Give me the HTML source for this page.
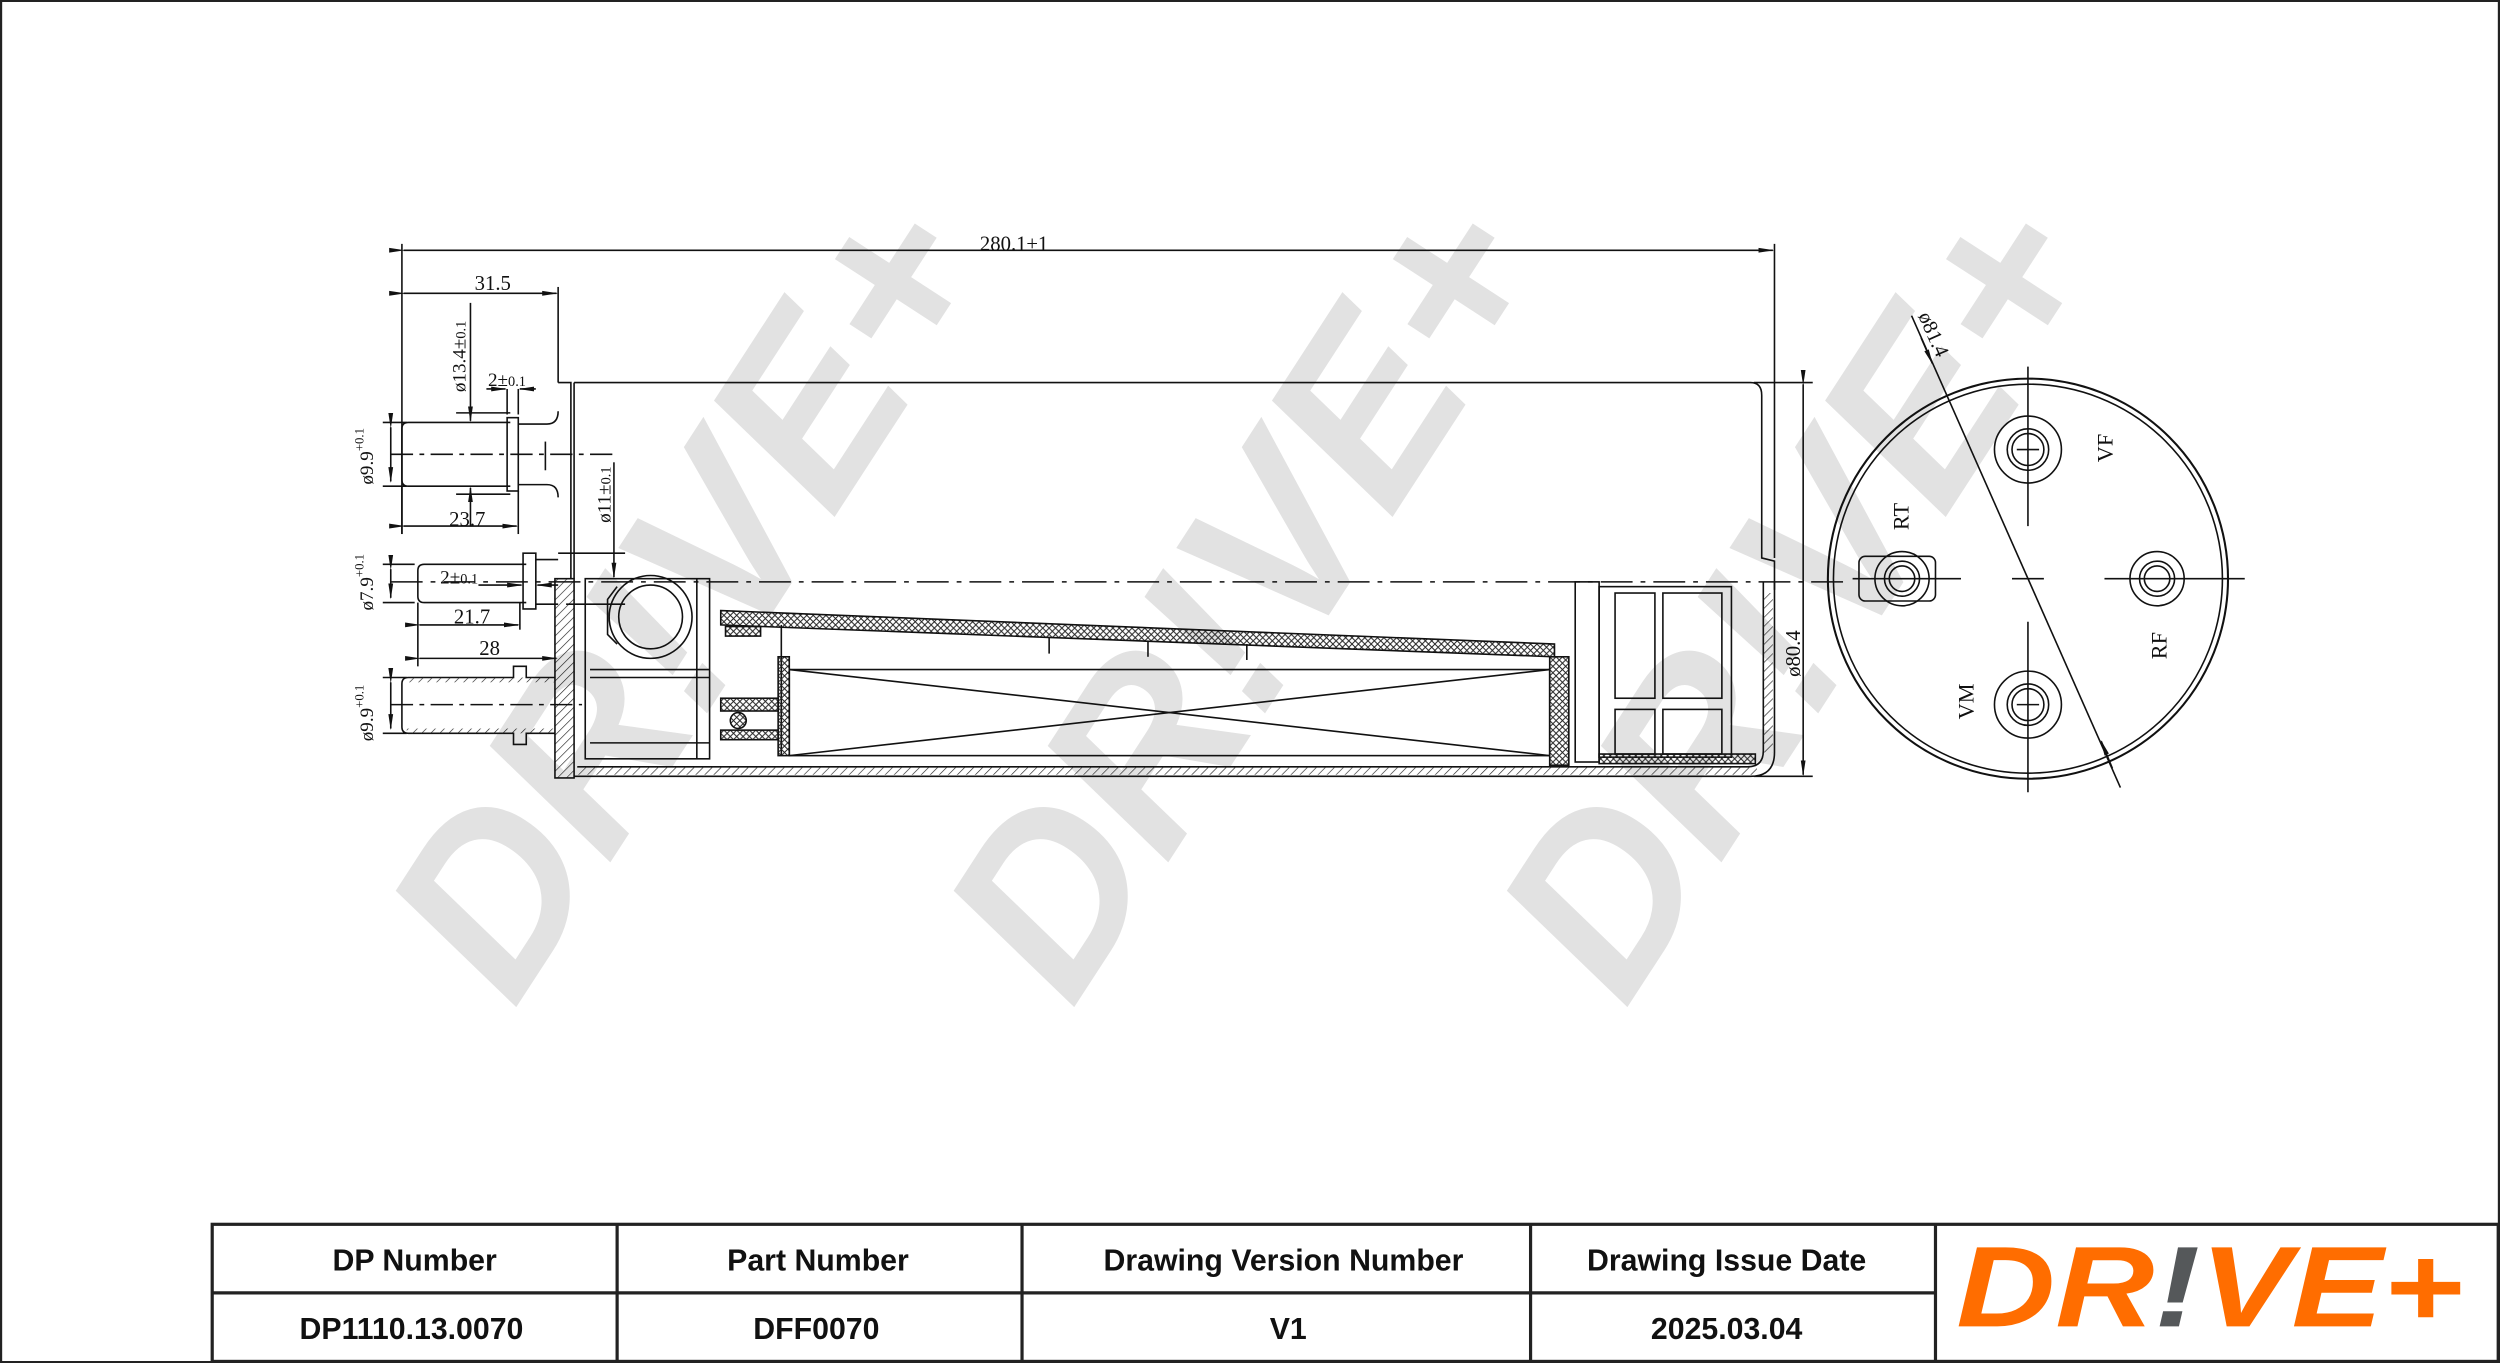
<!DOCTYPE html>
<html><head><meta charset="utf-8"><style>
html,body{margin:0;padding:0;background:#fff}
svg{display:block}
.s{font-family:"Liberation Serif",serif}
.t{font-family:"Liberation Sans",sans-serif;font-weight:bold;font-size:19px;text-anchor:middle}
.w{font-family:"Liberation Sans",sans-serif;font-weight:bold;font-style:italic}
</style></head><body>
<svg width="2500" height="1363" viewBox="0 0 1568 855" xmlns="http://www.w3.org/2000/svg">
<defs>
<pattern id="h" width="4" height="4" patternUnits="userSpaceOnUse" patternTransform="rotate(45)"><line x1="0" y1="0" x2="0" y2="4" stroke="#222" stroke-width="0.8"/></pattern>
<pattern id="x" width="4" height="4" patternUnits="userSpaceOnUse"><path d="M0 0L4 4M4 0L0 4" stroke="#222" stroke-width="0.6"/></pattern>
<marker id="a" markerWidth="10" markerHeight="6" refX="9" refY="3" orient="auto"><path d="M0 1.5L10 3L0 4.5z" fill="#111"/></marker>
</defs>
<rect x="0.5" y="0.5" width="1567" height="854" fill="#fff" stroke="#222" stroke-width="1.5"/>
<!-- watermarks -->
<g fill="#e2e2e2" class="w" font-size="150">
<text class="w" transform="translate(440,380) rotate(-57)" text-anchor="middle" dominant-baseline="middle">DR!VE+</text>
<text class="w" transform="translate(790,380) rotate(-57)" text-anchor="middle" dominant-baseline="middle">DR!VE+</text>
<text class="w" transform="translate(1137,380) rotate(-57)" text-anchor="middle" dominant-baseline="middle">DR!VE+</text>
</g>
<g stroke="#111" stroke-width="1" fill="none">
<line x1="252" y1="153" x2="252" y2="335"/>
<line x1="1113" y1="153" x2="1113" y2="350"/>
<line x1="253" y1="157" x2="1112" y2="157" marker-start="url(#a)" marker-end="url(#a)"/>
<line x1="350" y1="180" x2="350" y2="240"/>
<line x1="253" y1="184" x2="349" y2="184" marker-start="url(#a)" marker-end="url(#a)"/>
<path d="M360 240 H1098 Q1105 240 1105 248 V350 L1113 352 V370"/>
<line x1="1100" y1="240" x2="1137" y2="240"/>
<line x1="1100" y1="487" x2="1137" y2="487"/>
<line x1="1131" y1="241" x2="1131" y2="486" marker-start="url(#a)" marker-end="url(#a)"/>
<path d="M350 240 H358 V363"/>
<line x1="360" y1="240" x2="360" y2="363"/>
<rect x="348" y="363" width="12" height="125" fill="url(#h)"/>
<path d="M320 265 H256 Q252 265 252 269 V301 Q252 305 256 305 H320"/>
<rect x="318" y="262" width="7" height="46"/>
<path d="M325 266 H343 Q350 266 350 258 M325 304 H343 Q350 304 350 312"/>
<line x1="342" y1="277" x2="342" y2="295"/>
<line x1="245" y1="285" x2="385" y2="285" stroke-dasharray="14 4 3 4"/>
<line x1="295" y1="190" x2="295" y2="264" marker-end="url(#a)"/>
<line x1="295" y1="330" x2="295" y2="306" marker-end="url(#a)"/>
<line x1="286" y1="259" x2="320" y2="259"/><line x1="286" y1="310" x2="320" y2="310"/>
<line x1="305" y1="244" x2="317" y2="244" marker-end="url(#a)"/>
<line x1="336" y1="244" x2="326" y2="244" marker-end="url(#a)"/>
<line x1="318" y1="244" x2="318" y2="260"/><line x1="325" y1="244" x2="325" y2="260"/>
<line x1="253" y1="330" x2="324" y2="330" marker-start="url(#a)" marker-end="url(#a)"/>
<line x1="252" y1="305" x2="252" y2="335"/><line x1="325" y1="308" x2="325" y2="335"/>
<line x1="240" y1="265" x2="255" y2="265"/><line x1="240" y1="305" x2="255" y2="305"/>
<line x1="245" y1="268" x2="245" y2="302" marker-start="url(#a)" marker-end="url(#a)"/>
<path d="M330 354 H266 Q262 354 262 358 V374 Q262 378 266 378 H330"/>
<rect x="328" y="347" width="8" height="35"/>
<path d="M336 351 H350 M336 379 H350"/>
<line x1="245" y1="365" x2="1160" y2="365" stroke-dasharray="20 5 3 5"/>
<line x1="385" y1="290" x2="385" y2="362" marker-end="url(#a)"/>
<line x1="350" y1="347" x2="392" y2="347"/><line x1="355" y1="379" x2="392" y2="379"/>
<line x1="262" y1="378" x2="262" y2="418"/><line x1="326" y1="378" x2="326" y2="395"/>
<line x1="263" y1="392" x2="325" y2="392" marker-start="url(#a)" marker-end="url(#a)"/>
<line x1="263" y1="413" x2="349" y2="413" marker-start="url(#a)" marker-end="url(#a)"/>
<line x1="300" y1="367" x2="327" y2="367" marker-end="url(#a)"/>
<line x1="350" y1="367" x2="337" y2="367" marker-end="url(#a)"/>
<line x1="240" y1="354" x2="260" y2="354"/><line x1="240" y1="378" x2="260" y2="378"/>
<line x1="245" y1="357" x2="245" y2="375" marker-start="url(#a)" marker-end="url(#a)"/>
<path d="M348 425 H330 V418 H322 V425 H256 Q252 425 252 429 V456 Q252 460 256 460 H322 V467 H330 V460 H348"/>
<rect x="255" y="425" width="93" height="3" fill="url(#h)" stroke="none"/>
<rect x="255" y="457" width="93" height="3" fill="url(#h)" stroke="none"/>
<line x1="245" y1="442" x2="365" y2="442" stroke-dasharray="14 4 3 4"/>
<line x1="240" y1="425" x2="255" y2="425"/><line x1="240" y1="460" x2="255" y2="460"/>
<line x1="245" y1="428" x2="245" y2="457" marker-start="url(#a)" marker-end="url(#a)"/>
<path d="M360 487 H1098 Q1113 487 1113 472 V365"/>
<path d="M362 481 H1096 Q1106 481 1106 471 V365"/>
<rect x="362" y="481" width="740" height="5" fill="url(#h)" stroke="none"/>
<rect x="1106" y="372" width="6" height="100" fill="url(#h)" stroke="none"/>
<rect x="367" y="363" width="78" height="113"/>
<line x1="370" y1="420" x2="445" y2="420"/><line x1="370" y1="425" x2="445" y2="425"/>
<line x1="370" y1="466" x2="445" y2="466"/><line x1="437" y1="363" x2="437" y2="476"/>
<circle cx="408" cy="387" r="26"/><circle cx="408" cy="387" r="20"/>
<path d="M387 368 L381 376 V398 L387 404"/>
<path d="M452 383 L975 404 V412 L452 392 Z" fill="url(#x)"/>
<line x1="658" y1="400" x2="658" y2="410"/><line x1="720" y1="402" x2="720" y2="412"/><line x1="782" y1="404" x2="782" y2="414"/>
<rect x="455" y="393" width="22" height="6" fill="url(#x)"/>
<line x1="490" y1="392" x2="490" y2="474"/>
<rect x="488" y="412" width="7" height="62" fill="url(#x)"/>
<rect x="495" y="420" width="477" height="54"/>
<path d="M495 420 L972 474 M495 474 L972 420"/>
<rect x="972" y="412" width="12" height="68" fill="url(#x)"/>
<rect x="452" y="438" width="36" height="8" fill="url(#x)"/>
<rect x="452" y="458" width="36" height="6" fill="url(#x)"/>
<circle cx="463" cy="452" r="5" fill="url(#x)"/>
<rect x="988" y="365" width="15" height="113"/>
<rect x="1003" y="368" width="83" height="107"/>
<rect x="1013" y="372" width="25" height="66"/><rect x="1043" y="372" width="37" height="66"/>
<rect x="1013" y="445" width="25" height="28"/><rect x="1043" y="445" width="37" height="28"/>
<rect x="1003" y="473" width="98" height="6" fill="url(#x)"/>
<circle cx="1272" cy="363" r="125.5" stroke-width="1.3"/>
<circle cx="1272" cy="363" r="122"/>
<line x1="1272" y1="230" x2="1272" y2="330"/><line x1="1272" y1="390" x2="1272" y2="497"/>
<line x1="1162" y1="363" x2="1230" y2="363"/><line x1="1262" y1="363" x2="1282" y2="363"/><line x1="1320" y1="363" x2="1408" y2="363"/>
<line x1="1199" y1="198" x2="1330" y2="494"/>
<line x1="1205" y1="212" x2="1212" y2="228" marker-end="url(#a)"/>
<line x1="1325" y1="482" x2="1318" y2="465" marker-end="url(#a)"/>
<g><circle cx="1272" cy="282" r="21"/><circle cx="1272" cy="282" r="13"/><circle cx="1272" cy="282" r="10"/><path d="M1265 282H1279"/></g>
<g><circle cx="1272" cy="442" r="21"/><circle cx="1272" cy="442" r="13"/><circle cx="1272" cy="442" r="10"/><path d="M1265 442H1279"/></g>
<g><circle cx="1353" cy="363" r="17"/><circle cx="1353" cy="363" r="11"/><circle cx="1353" cy="363" r="8"/></g>
<g><rect x="1166" y="349" width="48" height="28" rx="4"/><circle cx="1193" cy="363" r="17"/><circle cx="1193" cy="363" r="11"/><circle cx="1193" cy="363" r="8"/></g>
</g>
<g font-size="13" fill="#111" class="s">
<text class="s" x="636" y="157" text-anchor="middle">280.1±1</text>
<text class="s" x="309" y="182" text-anchor="middle">31.5</text>
<text class="s" x="293" y="330" text-anchor="middle">23.7</text>
<text class="s" x="296" y="391" text-anchor="middle">21.7</text>
<text class="s" x="307" y="411" text-anchor="middle">28</text>
<text class="s" x="306" y="242" font-size="12">2±<tspan font-size="9">0.1</tspan></text>
<text class="s" x="276" y="366" font-size="12">2±<tspan font-size="9">0.1</tspan></text>
<text class="s" transform="translate(292,246) rotate(-90)" font-size="12">ø13.4±<tspan font-size="9">0.1</tspan></text>
<text class="s" transform="translate(383,328) rotate(-90)" font-size="12">ø11±<tspan font-size="9">0.1</tspan></text>
<text class="s" transform="translate(234,304) rotate(-90)" font-size="12">ø9.9<tspan font-size="8" dy="-6">+0.1</tspan></text>
<text class="s" transform="translate(234,383) rotate(-90)" font-size="12">ø7.9<tspan font-size="8" dy="-6">+0.1</tspan></text>
<text class="s" transform="translate(234,465) rotate(-90)" font-size="12">ø9.9<tspan font-size="8" dy="-6">+0.1</tspan></text>
<text class="s" transform="translate(1129,410) rotate(-90)" text-anchor="middle" font-size="13">ø80.4</text>
<text class="s" transform="translate(1203,198) rotate(66)" font-size="13">ø81.4</text>
<text class="s" transform="translate(1325,281) rotate(-90)" text-anchor="middle" font-size="14">VF</text>
<text class="s" transform="translate(1197,324) rotate(-90)" text-anchor="middle" font-size="14">RT</text>
<text class="s" transform="translate(1359,405) rotate(-90)" text-anchor="middle" font-size="14">RF</text>
<text class="s" transform="translate(1238,440) rotate(-90)" text-anchor="middle" font-size="14">VM</text>
</g>
<g stroke="#222" stroke-width="2" fill="none">
<rect x="133" y="768" width="1434" height="86"/>
<line x1="133" y1="811" x2="1214" y2="811"/>
<line x1="387" y1="768" x2="387" y2="854"/><line x1="641" y1="768" x2="641" y2="854"/>
<line x1="960" y1="768" x2="960" y2="854"/><line x1="1214" y1="768" x2="1214" y2="854"/>
</g>
<g fill="#111">
<text class="t" x="260" y="797">DP Number</text>
<text class="t" x="513" y="797">Part Number</text>
<text class="t" x="805" y="797">Drawing Version Number</text>
<text class="t" x="1083" y="797">Drawing Issue Date</text>
<text class="t" x="258" y="840">DP1110.13.0070</text>
<text class="t" x="512" y="840">DFF0070</text>
<text class="t" x="808" y="840">V1</text>
<text class="t" x="1083" y="840">2025.03.04</text>
</g>
<text class="w" x="1386" y="832" text-anchor="middle" font-size="72" fill="#ff6d00" textLength="318" lengthAdjust="spacingAndGlyphs">DR<tspan fill="#55585a">!</tspan>VE+</text>
</svg>
</body></html>
